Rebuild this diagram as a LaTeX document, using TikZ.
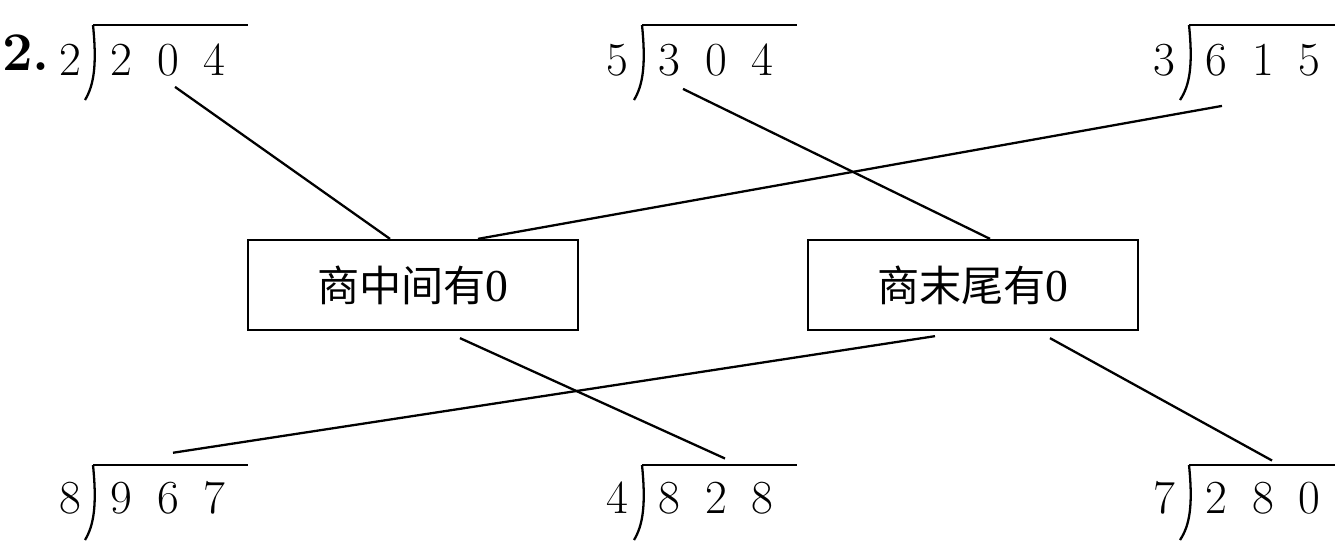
\documentclass[tikz,border=0pt]{standalone}
\usepackage{fontspec}
\newfontfamily\cjk{Noto Sans CJK SC}
\newfontfamily\tnr{Liberation Serif}
\usetikzlibrary{calc}

\tikzset{
  num/.style={font=\fontsize{27}{30}\selectfont, inner sep=0pt, anchor=base},
  tag/.style={draw, line width=1.3pt, inner sep=0pt, minimum width=6.6cm,
    minimum height=1.8cm, font=\cjk\fontsize{24}{28}\selectfont},
}

\begin{document}
\begin{tikzpicture}[x=0.02cm, y=-0.02cm, line width=1.3pt]
\useasboundingbox (0,0) rectangle (1335,559);

\node [num, anchor=base west, font=\bfseries\fontsize{31}{34}\selectfont] (no) at (1,70) {2.};

% top row
\node [num] (p1) at (70,75) {2};
\draw (93,25) -- (248,25);
\draw (93,25) .. controls (97,65) and (94,85) .. (85,100);
\node [num] (q1) at (168,75) {2\hspace{0.5cm}0\hspace{0.5cm}4};

\node [num] (p2) at (617,75) {5};
\draw (642,25) -- (797,25);
\draw (642,25) .. controls (646,65) and (643,85) .. (634,100);
\node [num] (q2) at (716,75) {3\hspace{0.5cm}0\hspace{0.5cm}4};

\node [num] (p3) at (1164,75) {3};
\draw (1189,25) -- (1335,25);
\draw (1189,25) .. controls (1193,65) and (1190,85) .. (1180,100);
\node [num] (q3) at (1263,75) {6\hspace{0.5cm}1\hspace{0.5cm}5};

% bottom row
\node [num] (p4) at (70,513) {8};
\draw (93,465) -- (248,465);
\draw (93,465) .. controls (97,505) and (94,525) .. (85,540);
\node [num] (q4) at (168,513) {9\hspace{0.5cm}6\hspace{0.5cm}7};

\node [num] (p5) at (617,513) {4};
\draw (642,465) -- (797,465);
\draw (642,465) .. controls (646,505) and (643,525) .. (634,540);
\node [num] (q5) at (716,513) {8\hspace{0.5cm}2\hspace{0.5cm}8};

\node [num] (p6) at (1164,513) {7};
\draw (1189,465) -- (1335,465);
\draw (1189,465) .. controls (1193,505) and (1190,525) .. (1180,540);
\node [num] (q6) at (1263,513) {2\hspace{0.5cm}8\hspace{0.5cm}0};

% boxes
\node [tag] (m1) at (413,285) {商中间有{\tnr\fontsize{26}{28}\selectfont 0}};
\node [tag] (m2) at (973,285) {商末尾有{\tnr\fontsize{26}{28}\selectfont 0}};

% connectors
\draw ($(q1.south)+(7,10)$) -- ($(m1.north)+(-23,0)$);
\draw ($(q2.south)+(-33,12)$) -- ($(m2.north)+(17,0)$);
\draw ($(q3.south)+(-41,29)$) -- ($(m1.north)+(65,0)$);
\draw ($(m1.south)+(47,7)$) -- ($(q5.north)+(9,-22)$);
\draw ($(m2.south)+(-38,5)$) -- ($(q4.north)+(5,-27)$);
\draw ($(m2.south)+(77,7)$) -- ($(q6.north)+(9,-20)$);
\end{tikzpicture}
\end{document}
